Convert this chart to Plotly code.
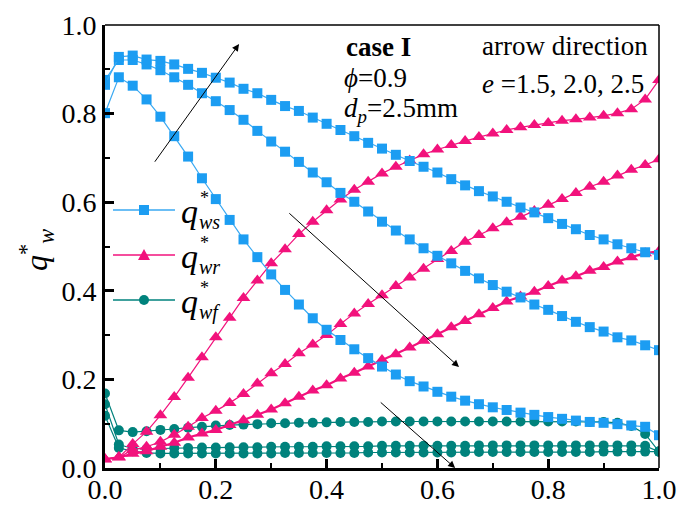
import plotly.graph_objects as go

# Dimensionless position along the wall
x_pos = [0.0, 0.025, 0.05, 0.075, 0.1, 0.125, 0.15, 0.175, 0.2, 0.225,
         0.25, 0.275, 0.3, 0.325, 0.35, 0.375, 0.4, 0.425, 0.45, 0.475,
         0.5, 0.525, 0.55, 0.575, 0.6, 0.625, 0.65, 0.675, 0.7, 0.725,
         0.75, 0.775, 0.8, 0.825, 0.85, 0.875, 0.9, 0.925, 0.95, 0.975, 1.0]

# q*_ws (solid conduction share) for e = 1.5, 2.0, 2.5
qws_e15 = [0.801, 0.882, 0.863, 0.832, 0.793, 0.749, 0.703, 0.654, 0.607, 0.560,
           0.516, 0.476, 0.437, 0.402, 0.369, 0.338, 0.312, 0.289, 0.268, 0.248,
           0.229, 0.211, 0.196, 0.184, 0.172, 0.161, 0.152, 0.144, 0.137, 0.131,
           0.125, 0.120, 0.115, 0.111, 0.107, 0.104, 0.102, 0.099, 0.096, 0.093, 0.074]
qws_e20 = [0.876, 0.921, 0.921, 0.911, 0.898, 0.882, 0.865, 0.846, 0.828, 0.808,
           0.786, 0.761, 0.737, 0.714, 0.691, 0.667, 0.645, 0.621, 0.601, 0.579,
           0.556, 0.536, 0.516, 0.496, 0.479, 0.462, 0.445, 0.428, 0.413, 0.398,
           0.385, 0.369, 0.357, 0.343, 0.330, 0.318, 0.308, 0.295, 0.288, 0.277, 0.266]
qws_e25 = [0.865, 0.928, 0.931, 0.922, 0.919, 0.911, 0.901, 0.892, 0.881, 0.870,
           0.856, 0.846, 0.831, 0.817, 0.806, 0.791, 0.777, 0.763, 0.749, 0.734,
           0.721, 0.707, 0.693, 0.680, 0.667, 0.652, 0.638, 0.625, 0.613, 0.601,
           0.588, 0.577, 0.564, 0.551, 0.539, 0.526, 0.516, 0.505, 0.496, 0.487, 0.481]

# q*_wr (radiation share) for e = 1.5, 2.0, 2.5
qwr_e15 = [0.020, 0.024, 0.054, 0.082, 0.119, 0.160, 0.204, 0.250, 0.295, 0.339,
           0.384, 0.423, 0.462, 0.494, 0.528, 0.556, 0.582, 0.606, 0.628, 0.646,
           0.665, 0.680, 0.694, 0.708, 0.719, 0.729, 0.738, 0.747, 0.755, 0.763,
           0.769, 0.774, 0.779, 0.784, 0.787, 0.791, 0.795, 0.801, 0.810, 0.832, 0.876]
qwr_e20 = [0.020, 0.024, 0.041, 0.048, 0.059, 0.075, 0.093, 0.113, 0.129, 0.147,
           0.167, 0.191, 0.214, 0.235, 0.259, 0.279, 0.300, 0.325, 0.349, 0.370,
           0.390, 0.411, 0.430, 0.450, 0.472, 0.490, 0.511, 0.526, 0.541, 0.555,
           0.567, 0.580, 0.594, 0.607, 0.621, 0.635, 0.646, 0.660, 0.673, 0.684, 0.697]
qwr_e25 = [0.020, 0.024, 0.032, 0.038, 0.048, 0.057, 0.069, 0.078, 0.086, 0.097,
           0.108, 0.120, 0.132, 0.146, 0.161, 0.175, 0.187, 0.202, 0.215, 0.229,
           0.244, 0.257, 0.272, 0.287, 0.302, 0.318, 0.332, 0.347, 0.361, 0.376,
           0.387, 0.398, 0.411, 0.423, 0.433, 0.445, 0.454, 0.466, 0.476, 0.485, 0.489]

# q*_wf (fluid conduction share) for e = 1.5, 2.0, 2.5
qwf_e15 = [0.168, 0.085, 0.081, 0.083, 0.086, 0.088, 0.091, 0.093, 0.096, 0.097,
           0.098, 0.099, 0.101, 0.101, 0.102, 0.102, 0.103, 0.104, 0.104, 0.104,
           0.105, 0.105, 0.105, 0.105, 0.105, 0.105, 0.105, 0.105, 0.105, 0.105,
           0.105, 0.105, 0.105, 0.105, 0.105, 0.104, 0.104, 0.102, 0.095, 0.077, 0.037]
qwf_e20 = [0.144, 0.053, 0.044, 0.043, 0.044, 0.045, 0.045, 0.046, 0.046, 0.047,
           0.047, 0.047, 0.048, 0.048, 0.048, 0.048, 0.049, 0.049, 0.049, 0.049,
           0.050, 0.050, 0.050, 0.050, 0.050, 0.050, 0.050, 0.051, 0.051, 0.051,
           0.051, 0.051, 0.051, 0.051, 0.051, 0.051, 0.051, 0.051, 0.051, 0.050, 0.037]
qwf_e25 = [0.118, 0.045, 0.038, 0.034, 0.033, 0.033, 0.033, 0.033, 0.033, 0.033,
           0.033, 0.033, 0.033, 0.034, 0.034, 0.034, 0.034, 0.034, 0.034, 0.035,
           0.035, 0.035, 0.035, 0.035, 0.035, 0.035, 0.036, 0.036, 0.036, 0.036,
           0.036, 0.036, 0.036, 0.036, 0.036, 0.036, 0.037, 0.037, 0.037, 0.037, 0.037]

tick_vals = [0.0, 0.2, 0.4, 0.6, 0.8, 1.0]
tick_text = ["0.0", "0.2", "0.4", "0.6", "0.8", "1.0"]

BLUE = "#1C9DF2"
BLUE_LINE = "#3AA9F2"
PINK = "#F2127C"
TEAL = "#00827C"
FONT = "Liberation Serif"

W, H = 680, 509
ML, MR, MT, MB = 105, 21, 25, 41
PW, PH = W - ML - MR, H - MT - MB


def px(xp):
    """pixel column -> paper x"""
    return (xp - ML) / PW


def py(yp):
    """pixel row -> paper y"""
    return (H - MB - yp) / PH


fig = go.Figure()

# fluid, radiation, then solid on top
for ys in (qwf_e15, qwf_e20, qwf_e25):
    fig.add_trace(go.Scatter(x=x_pos, y=ys, mode="lines+markers",
                             line=dict(color=TEAL, width=1.2),
                             marker=dict(symbol="circle", size=10, color=TEAL),
                             showlegend=False))
for ys, lw in ((qwr_e15, 1.2), (qwr_e20, 1.2), (qwr_e25, 2.2)):
    fig.add_trace(go.Scatter(x=x_pos, y=ys, mode="lines+markers",
                             line=dict(color=PINK, width=lw),
                             marker=dict(symbol="triangle-up", size=12, color=PINK),
                             showlegend=False))
for ys in (qws_e15, qws_e20, qws_e25):
    fig.add_trace(go.Scatter(x=x_pos, y=ys, mode="lines+markers",
                             line=dict(color=BLUE_LINE, width=1.2),
                             marker=dict(symbol="square", size=10, color=BLUE),
                             showlegend=False))

axis_common = dict(range=[0, 1], showgrid=False, zeroline=False, automargin=False,
                   showline=True, linecolor="black", linewidth=3,
                   ticks="inside", ticklen=9, tickwidth=2.5, tickcolor="black",
                   tickvals=tick_vals, ticktext=tick_text,
                   tickfont=dict(family=FONT, size=28, color="black"),
                   minor=dict(ticks="inside", ticklen=5, tickwidth=2,
                              tickcolor="black", dtick=0.1))

fig.update_xaxes(**axis_common, ticklabelstandoff=-6)
fig.update_yaxes(**axis_common)

shapes = [
    # thin top and right frame
    dict(type="line", xref="paper", yref="paper", x0=0, x1=1, y0=1, y1=1,
         line=dict(color="black", width=1.5)),
    dict(type="line", xref="paper", yref="paper", x0=1, x1=1, y0=0, y1=1,
         line=dict(color="black", width=1.5)),
]

# hand-built legend
legend_rows = [(210, BLUE_LINE, BLUE, "square", "ws"),
               (255, PINK, PINK, "triangle", "wr"),
               (300, TEAL, TEAL, "circle", "wf")]
annotations = []
for yrow, lc, mc, sym, sub in legend_rows:
    shapes.append(dict(type="line", xref="paper", yref="paper",
                       x0=px(113), x1=px(175), y0=py(yrow), y1=py(yrow),
                       line=dict(color=lc, width=1.5)))
    common = dict(xref="paper", yref="paper", xsizemode="pixel", ysizemode="pixel",
                  xanchor=px(144), yanchor=py(yrow), fillcolor=mc,
                  line=dict(color=mc, width=0))
    if sym == "square":
        shapes.append(dict(type="rect", x0=-5, x1=5, y0=-5, y1=5, **common))
    elif sym == "circle":
        shapes.append(dict(type="circle", x0=-5, x1=5, y0=-5, y1=5, **common))
    else:
        shapes.append(dict(type="path", path="M -6,-5 L 6,-5 L 0,6 Z", **common))
    annotations.append(dict(xref="paper", yref="paper", x=px(179), y=py(yrow + 1),
                            xanchor="left", yanchor="middle", showarrow=False,
                            text="<i>q</i>", font=dict(family=FONT, size=34, color="black")))
    annotations.append(dict(xref="paper", yref="paper", x=px(198), y=py(yrow - 12),
                            xanchor="left", yanchor="middle", showarrow=False,
                            text="*", font=dict(family=FONT, size=18, color="black")))
    annotations.append(dict(xref="paper", yref="paper", x=px(197), y=py(yrow + 12),
                            xanchor="left", yanchor="middle", showarrow=False,
                            text="<i>%s</i>" % sub,
                            font=dict(family=FONT, size=20, color="black")))

# y-axis title q*_w
annotations.append(dict(xref="paper", yref="paper", x=px(36), y=py(250),
                        xanchor="center", yanchor="middle", showarrow=False,
                        textangle=-90, text="<i>q</i><sup>*</sup><sub><i>w</i></sub>",
                        font=dict(family=FONT, size=32, color="black")))

# case description
txt_font = dict(family=FONT, size=27, color="black")
for xp, yp, t in [(344, 47, "<b>case I</b>"),
                  (342, 78, "<i>ϕ</i>=0.9"),
                  (342, 110, "<i>d</i><sub><i>p</i></sub>=2.5mm"),
                  (480, 46, "arrow direction"),
                  (480, 84, "<i>e</i> =1.5, 2.0, 2.5")]:
    annotations.append(dict(xref="paper", yref="paper", x=px(xp), y=py(yp),
                            xanchor="left", yanchor="middle", showarrow=False,
                            text=t, font=txt_font))

# direction arrows (increasing e)
for (x0, y0), (x1, y1) in [((0.088, 0.688), (0.242, 0.957)),
                           ((0.330, 0.578), (0.639, 0.228)),
                           ((0.495, 0.151), (0.632, 0.0))]:
    annotations.append(dict(xref="x", yref="y", axref="x", ayref="y",
                            x=x1, y=y1, ax=x0, ay=y0, text="", showarrow=True,
                            arrowhead=2, arrowsize=1.4, arrowwidth=1,
                            arrowcolor="black"))

# panel label, mostly above the page edge
annotations.append(dict(xref="paper", yref="paper", x=px(346), y=py(-16),
                        xanchor="center", yanchor="middle", showarrow=False,
                        text="(a)", font=dict(family=FONT, size=28, color="black")))

fig.update_layout(width=W, height=H,
                  margin=dict(l=ML, r=MR, t=MT, b=MB),
                  paper_bgcolor="white", plot_bgcolor="white",
                  shapes=shapes, annotations=annotations,
                  showlegend=False,
                  font=dict(family=FONT, color="black"))

fig.write_html("out.html")
